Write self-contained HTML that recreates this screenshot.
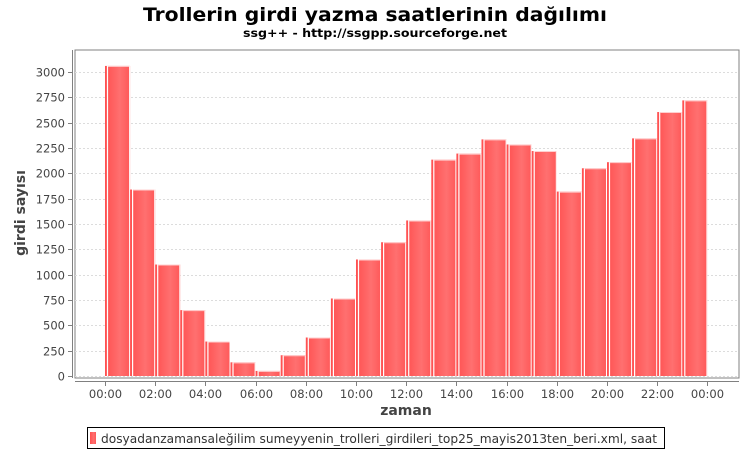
<!DOCTYPE html>
<html><head><meta charset="utf-8"><style>
body{margin:0;background:#fff;width:750px;height:450px;overflow:hidden}
svg text{font-family:"DejaVu Sans","Liberation Sans",sans-serif}
</style></head><body>
<svg id="c" width="750" height="450" xmlns="http://www.w3.org/2000/svg">
<defs><linearGradient id="g" x1="0" x2="1" y1="0" y2="0">
<stop offset="0" stop-color="#ff5050"/><stop offset="0.6" stop-color="#ff7070"/><stop offset="1" stop-color="#ff5858"/></linearGradient></defs>
<text x="375" y="21" text-anchor="middle" font-size="19" font-weight="bold" fill="#000" textLength="464" lengthAdjust="spacingAndGlyphs">Trollerin girdi yazma saatlerinin dağılımı</text>
<text x="375" y="37" text-anchor="middle" font-size="11.5" font-weight="bold" fill="#000" textLength="264" lengthAdjust="spacingAndGlyphs">ssg++ - http://ssgpp.sourceforge.net</text>
<rect x="75" y="50" width="664" height="328" fill="#fff" stroke="#808080"/>
<g id="grid"></g><g id="bars"></g><g id="axes"></g>
<text transform="translate(25,213) rotate(-90)" text-anchor="middle" font-size="14" font-weight="bold" fill="#444">girdi sayısı</text>
<text x="406" y="415" text-anchor="middle" font-size="14" font-weight="bold" fill="#444">zaman</text>
<g>
<rect x="87.5" y="427.5" width="577" height="21" fill="#fff" stroke="#000"/>
<rect x="90" y="432" width="6" height="12" fill="url(#g)"/>
<text x="101" y="443" font-size="12" fill="#333" textLength="556" lengthAdjust="spacingAndGlyphs">dosyadanzamansaleğilim sumeyyenin_trolleri_girdileri_top25_mayis2013ten_beri.xml, saat</text>
</g>
</svg>
<script>
const hours=[0,1,2,3,4,5,6,7,8,9,10,11,12,13,14,15,16,17,18,19,20,21,22,23];
const counts=[3060,1840,1100,650,340,135,50,205,380,765,1150,1320,1535,2135,2195,2335,2285,2220,1820,2050,2110,2345,2605,2720];
const yTicks=[0,250,500,750,1000,1250,1500,1750,2000,2250,2500,2750,3000];
const xTicks=[0,2,4,6,8,10,12,14,16,18,20,22,24];
const xTickLabels=["00:00","02:00","04:00","06:00","08:00","10:00","12:00","14:00","16:00","18:00","20:00","22:00","00:00"];
const NS="http://www.w3.org/2000/svg";
const X=h=>105+h*25.1, Y=v=>376-v*304/3000;
function mk(t,a,p){const e=document.createElementNS(NS,t);for(const k in a)e.setAttribute(k,a[k]);p.appendChild(e);return e;}
const grid=document.getElementById('grid'),bars=document.getElementById('bars'),axes=document.getElementById('axes');
mk('line',{x1:72.5,x2:72.5,y1:50,y2:378,stroke:'#808080'},axes);
mk('line',{x1:75,x2:739,y1:381.5,y2:381.5,stroke:'#808080'},axes);
yTicks.forEach(v=>{const y=Math.round(Y(v))+0.5;
 const l=mk('line',{x1:75,x2:739,y1:y,y2:y,stroke:'#dcdcdc','stroke-dasharray':'2,2'},grid);
 
 
 mk('line',{x1:68,x2:72,y1:y,y2:y,stroke:'#808080'},axes);
 const t=mk('text',{x:65,y:y+4,'text-anchor':'end','font-size':11.5,fill:'#444'},axes);t.textContent=v;
 
 });
xTicks.forEach((h,i)=>{const x=Math.round(X(h))+0.5;
 mk('line',{x1:x,x2:x,y1:382,y2:386,stroke:'#808080'},axes);
 const t=mk('text',{x:x,y:398,'text-anchor':'middle','font-size':11.5,fill:'#444'},axes);t.textContent=xTickLabels[i];
 
 });
hours.forEach((h,i)=>{const x0=X(h),x1=X(h+1),y=Y(counts[i]),b=376;
 const g=mk('g',{},bars);
 
 
 mk('rect',{x:x0,y:y,width:x1-x0,height:b-y,fill:'url(#g)'},g);
 mk('line',{x1:x0+2.5,x2:x0+2.5,y1:y,y2:b,stroke:'#fff','stroke-width':1.2},g);
 mk('line',{x1:x1-0.5,x2:x1-0.5,y1:y,y2:b,stroke:'#fff','stroke-width':1},g);
 mk('line',{x1:x0+3,x2:x1-1,y1:y+0.5,y2:y+0.5,stroke:'#ffd0d0','stroke-width':1},g);});
</script>
</body></html>
